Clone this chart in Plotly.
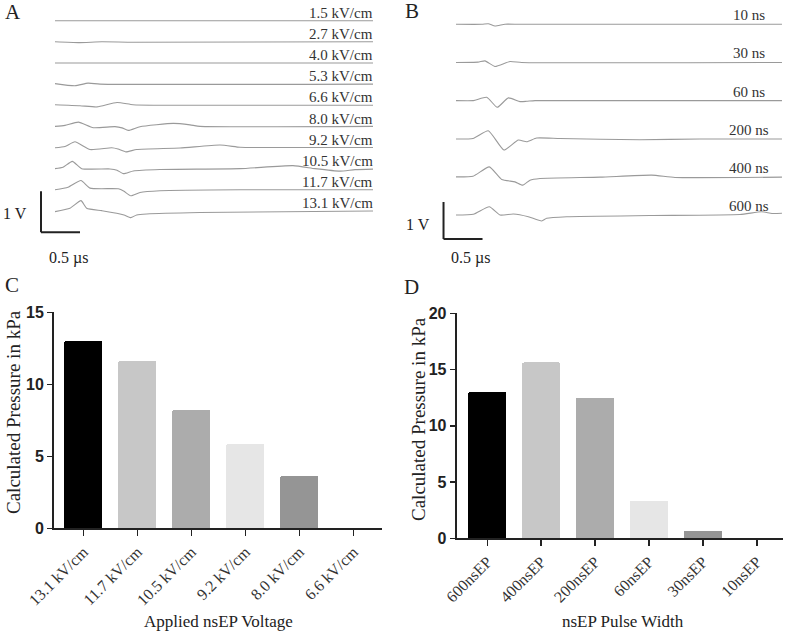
import plotly.graph_objects as go

# ---------------- Panel A : waveforms by field strength (t in µs, v in V rel. baseline)
A_LABELS = ["1.5 kV/cm", "2.7 kV/cm", "4.0 kV/cm", "5.3 kV/cm", "6.6 kV/cm",
            "8.0 kV/cm", "9.2 kV/cm", "10.5 kV/cm", "11.7 kV/cm", "13.1 kV/cm"]
A_T_1_5 = [0, 4.077]
A_V_1_5 = [0, 0]
A_T_2_7 = [0, 0.3, 0.6, 1.0, 4.077]
A_V_2_7 = [0, -0.02, 0, -0.01, 0]
A_T_4_0 = [0, 4.077]
A_V_4_0 = [0, 0]
A_T_5_3 = [0, 0.256, 0.423, 0.577, 4.077]
A_V_5_3 = [0.012, -0.041, 0.024, 0, 0]
A_T_6_6 = [0, 0.32, 0.538, 0.795, 1.0, 1.346, 4.077]
A_V_6_6 = [0.012, -0.012, -0.041, 0.066, 0.012, 0, 0]
A_T_8_0 = [0, 0.128, 0.299, 0.491, 0.769, 0.859, 0.94, 1.09, 1.517, 1.731, 1.859, 4.077]
A_V_8_0 = [0, 0.024, 0.105, -0.032, -0.007, -0.037, -0.098, -0.007, 0.073, 0.037, 0, 0]
A_T_9_2 = [0, 0.128, 0.256, 0.449, 0.727, 0.808, 0.91, 1.047, 1.603, 2.115, 2.372, 2.628, 4.077]
A_V_9_2 = [-0.007, 0.024, 0.139, -0.049, -0.007, -0.037, -0.105, -0.049, -0.012, 0.061, 0.007, 0, 0]
A_T_10_5 = [0, 0.103, 0.222, 0.342, 0.705, 0.795, 0.876, 1.004, 1.346, 2.372, 3.051, 3.333, 3.654, 3.846, 4.077]
A_V_10_5 = [0, 0.037, 0.178, 0, -0.007, -0.037, -0.122, -0.056, -0.02, 0, 0.073, 0, -0.061, -0.024, -0.012]
A_T_11_7 = [0, 0.167, 0.333, 0.449, 0.812, 0.885, 0.971, 1.09, 1.346, 2.372, 4.077]
A_V_11_7 = [0, 0.061, 0.227, 0.041, 0.024, -0.037, -0.146, -0.066, -0.024, 0, 0]
A_T_13_1 = [0, 0.192, 0.333, 0.406, 0.599, 0.791, 0.885, 0.971, 1.047, 1.176, 1.859, 4.077]
A_V_13_1 = [-0.017, 0.066, 0.251, 0.066, 0.007, -0.056, -0.098, -0.163, -0.098, -0.073, -0.037, 0]

# ---------------- Panel B : waveforms by pulse width
B_LABELS = ["10 ns", "30 ns", "60 ns", "200 ns", "400 ns", "600 ns"]
B_T_10 = [0, 0.333, 0.414, 0.5, 0.628, 0.821, 4.179]
B_V_10 = [0, 0, 0.016, -0.046, 0.003, 0, 0]
B_T_30 = [0, 0.282, 0.372, 0.5, 0.692, 0.842, 4.179]
B_V_30 = [0, 0.008, 0.043, -0.108, 0.027, 0, 0]
B_T_60 = [0, 0.222, 0.394, 0.529, 0.671, 0.821, 0.906, 1.013, 4.179]
B_V_60 = [0, 0, 0.089, -0.181, 0.073, -0.027, -0.019, 0, 0]
B_T_200 = [0, 0.218, 0.414, 0.615, 0.799, 0.906, 1.034, 1.333, 2.359, 3.128, 4.179]
B_V_200 = [-0.008, 0.008, 0.216, -0.305, -0.035, -0.081, 0.019, 0.005, -0.027, -0.008, -0.008]
B_T_400 = [0, 0.218, 0.427, 0.586, 0.756, 0.855, 0.949, 1.077, 1.846, 2.509, 2.808, 4.179]
B_V_400 = [0, 0.019, 0.27, -0.07, -0.135, -0.224, -0.089, -0.043, -0.008, 0.046, -0.016, -0.008]
B_T_600 = [0, 0.222, 0.427, 0.564, 0.735, 0.927, 1.099, 1.163, 1.419, 2.487, 3.641, 3.919, 4.051, 4.179]
B_V_600 = [0, 0.019, 0.224, 0, 0.027, -0.046, -0.162, -0.089, -0.046, -0.014, 0.014, 0.089, 0.041, 0.046]

# ---------------- Panel C / D : bar charts
C_CATEGORIES = ["13.1 kV/cm", "11.7 kV/cm", "10.5 kV/cm", "9.2 kV/cm", "8.0 kV/cm", "6.6 kV/cm"]
C_VALUES = [13.03, 11.64, 8.24, 5.85, 3.63, 0]
C_TICKS = [0, 5, 10, 15]
D_CATEGORIES = ["600nsEP", "400nsEP", "200nsEP", "60nsEP", "30nsEP", "10nsEP"]
D_VALUES = [13.03, 15.64, 12.47, 3.32, 0.65, 0]
D_TICKS = [0, 5, 10, 15, 20]
BAR_COLORS = ["#000000", "#c7c7c7", "#acacac", "#e6e6e6", "#959595", "#d0d0d0"]

W, H = 787, 634
SERIF = "Liberation Serif, Times New Roman, serif"
SANS = "Liberation Sans, Arial, sans-serif"
TXT = "#222222"
WAVE = "#9a9a9a"

A_T = [A_T_1_5, A_T_2_7, A_T_4_0, A_T_5_3, A_T_6_6, A_T_8_0, A_T_9_2, A_T_10_5, A_T_11_7, A_T_13_1]
A_V = [A_V_1_5, A_V_2_7, A_V_4_0, A_V_5_3, A_V_6_6, A_V_8_0, A_V_9_2, A_V_10_5, A_V_11_7, A_V_13_1]
B_T = [B_T_10, B_T_30, B_T_60, B_T_200, B_T_400, B_T_600]
B_V = [B_V_10, B_V_30, B_V_60, B_V_200, B_V_400, B_V_600]

fig = go.Figure()

# layout geometry for stacked traces
A_TOP, A_STEP = 5.837, 0.5156
B_TOP, B_STEP = 6.370, 1.0308

ann = []
for i, (t, v) in enumerate(zip(A_T, A_V)):
    base = A_TOP - i * A_STEP
    fig.add_trace(go.Scatter(x=t, y=[base + y for y in v], mode="lines",
                             line=dict(color=WAVE, width=1.1, shape="spline", smoothing=0.5),
                             xaxis="x", yaxis="y", showlegend=False, hoverinfo="skip"))
    ann.append(dict(x=4.103, y=base + 0.19, xref="x", yref="y", text=A_LABELS[i],
                    xanchor="right", yanchor="middle", showarrow=False,
                    font=dict(family=SERIF, size=15, color="#333")))
for i, (t, v) in enumerate(zip(B_T, B_V)):
    base = B_TOP - i * B_STEP
    fig.add_trace(go.Scatter(x=t, y=[base + y for y in v], mode="lines",
                             line=dict(color=WAVE, width=1.1, shape="spline", smoothing=0.5),
                             xaxis="x2", yaxis="y2", showlegend=False, hoverinfo="skip"))
    ann.append(dict(x=3.756, y=base + 0.243, xref="x2", yref="y2", text=B_LABELS[i],
                    xanchor="center", yanchor="middle", showarrow=False,
                    font=dict(family=SERIF, size=15, color="#333")))

fig.add_trace(go.Bar(x=C_CATEGORIES, y=C_VALUES, marker=dict(color=BAR_COLORS, line=dict(width=0), cornerradius=2),
                     width=0.71, xaxis="x3", yaxis="y3", showlegend=False, hoverinfo="skip"))
fig.add_trace(go.Bar(x=D_CATEGORIES, y=D_VALUES, marker=dict(color=BAR_COLORS, line=dict(width=0), cornerradius=2),
                     width=0.71, xaxis="x4", yaxis="y4", showlegend=False, hoverinfo="skip"))

shapes = []
# scale bars
shapes.append(dict(type="line", xref="x", yref="y", x0=-0.1795, x1=-0.1795, y0=0.6756, y1=1.6756,
                   line=dict(color="#222", width=2)))
shapes.append(dict(type="line", xref="x", yref="y", x0=-0.1795, x1=0.3205, y0=0.6756, y1=0.6756,
                   line=dict(color="#222", width=2)))
shapes.append(dict(type="line", xref="x2", yref="y2", x0=-0.160, x1=-0.160, y0=0.5676, y1=1.5676,
                   line=dict(color="#222", width=2)))
shapes.append(dict(type="line", xref="x2", yref="y2", x0=-0.160, x1=0.340, y0=0.5676, y1=0.5676,
                   line=dict(color="#222", width=2)))

def txt(x, y, s, size, xref="paper", yref="paper", angle=0, family=SERIF):
    return dict(x=x, y=y, xref=xref, yref=yref, text=s, showarrow=False, textangle=angle,
                xanchor="center", yanchor="middle", font=dict(family=family, size=size, color=TXT))

def px(xp, yp):
    return xp / W, 1 - yp / H

ann.append(txt(-0.513, 1.146, "1 V", 16, "x", "y"))
ann.append(txt(0.179, 0.049, "0.5 µs", 16, "x", "y"))
ann.append(txt(-0.487, 0.973, "1 V", 16, "x2", "y2"))
ann.append(txt(0.192, 0.054, "0.5 µs", 16, "x2", "y2"))

for letter, (xp, yp) in [("A", (12.5, 12.5)), ("B", (412.5, 11.5)), ("C", (11.5, 285)), ("D", (411.5, 287))]:
    x, y = px(xp, yp)
    ann.append(txt(x, y, letter, 21))

x, y = px(13, 412); ann.append(txt(x, y, "Calculated Pressure in kPa", 19, angle=-90))
x, y = px(418, 419); ann.append(txt(x, y, "Calculated Pressure in kPa", 19, angle=-90))
x, y = px(218, 621); ann.append(txt(x, y, "Applied nsEP Voltage", 17))
x, y = px(623, 621); ann.append(txt(x, y, "nsEP Pulse Width", 17))

wave_ax = dict(visible=False, showgrid=False, zeroline=False, fixedrange=True, automargin=False)
bar_x = dict(type="category", showline=True, linewidth=2, linecolor="#222", ticks="outside",
             ticklen=6, tickwidth=1.5, tickcolor="#222", tickangle=-45, showgrid=False, zeroline=False,
             automargin=False, tickfont=dict(family=SERIF, size=16, color="#333"))
bar_y = dict(showline=True, linewidth=2, linecolor="#222", ticks="outside", ticklen=5, tickwidth=1.5,
             tickcolor="#222", showgrid=False, zeroline=False, automargin=False,
             tickfont=dict(family=SANS, size=16, color="#222", weight="bold"))

fig.update_layout(
    width=W, height=H, margin=dict(l=0, r=0, t=0, b=0, pad=0, autoexpand=False),
    paper_bgcolor="white", plot_bgcolor="white", showlegend=False, bargap=0, hovermode=False,
    xaxis=dict(**wave_ax, domain=[0, 390 / W], range=[-55 / 78, 335 / 78]),
    yaxis=dict(**wave_ax, domain=[1 - 260 / H, 1], range=[0, 260 / 41]),
    xaxis2=dict(**wave_ax, domain=[395 / W, 1], range=[(395 - 456) / 78, (787 - 456) / 78]),
    yaxis2=dict(**wave_ax, domain=[1 - 260 / H, 1], range=[0, 260 / 37]),
    xaxis3=dict(**bar_x, domain=[54 / W, 381.7 / W], range=[-0.543, 5.526], anchor="y3"),
    yaxis3=dict(**bar_y, domain=[1 - 528.3 / H, 1 - 312.3 / H], range=[0, 15], tickvals=C_TICKS, anchor="x3"),
    xaxis4=dict(**bar_x, domain=[456.7 / W, 783.3 / W], range=[-0.568, 5.492], anchor="y4"),
    yaxis4=dict(**bar_y, domain=[1 - 538.3 / H, 1 - 313.3 / H], range=[0, 20], tickvals=D_TICKS, anchor="x4"),
    annotations=ann, shapes=shapes,
)

fig.write_html("out.html", config={"displayModeBar": False, "staticPlot": True},
               post_script="document.body.style.margin='0';document.body.style.padding='0';")
